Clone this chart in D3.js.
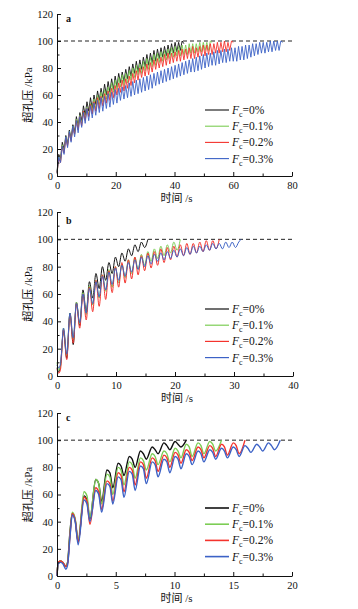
<!DOCTYPE html>
<html><head><meta charset="utf-8">
<script src="https://cdn.jsdelivr.net/npm/d3@7"></script>
<style>body{margin:0;background:#fff}svg{display:block}</style>
</head><body><svg id="chart" width="358" height="609"></svg>
<script>
// ---------- data ----------
const seriesNames = ["0%", "0.1%", "0.2%", "0.3%"];
const yTicks = [0, 20, 40, 60, 80, 100, 120];
const yMinor = [10, 30, 50, 70, 90, 110];
const refLevel = 100;

// panel a: values sampled every half cycle (aStep seconds)
const aStep = 0.6;
const aXTicks = [0, 20, 40, 60, 80];
const aXMinor = [10, 30, 50, 70];
const a0 = [3,16,13,25,20,30,24,34,28,38,33,44,37,47,41,52,45,55,48,58,50,60,53,63,56,65,58,68,60,70,62,72,64,74,66,76,69,77,70,79,72,81,74,83,76,85,77,86,79,88,81,90,82,91,84,93,85,94,87,95,88,96,89,97,90,98,91,99,92,99,93,100,98];
const a1 = [2,14,11,23,18,29,23,33,27,37,31,42,36,45,39,48,42,51,45,54,48,57,50,60,53,62,55,64,57,66,59,69,62,71,64,73,66,75,67,76,69,78,71,80,73,82,75,83,76,85,78,87,79,88,81,90,82,91,84,92,85,93,86,94,87,95,88,96,89,96,89,97,90,97,90,98,91,98,91,98,92,99,92,99,93,99,93,100,99];
const a2 = [2,13,10,22,17,28,22,32,26,36,31,41,34,44,37,48,41,50,44,53,46,55,48,58,50,59,52,61,54,63,56,65,58,67,60,69,62,71,63,72,65,74,67,76,69,78,71,80,73,81,74,83,75,84,77,86,79,87,80,88,81,90,82,91,83,91,84,92,85,93,85,94,86,94,87,95,87,96,87,95,88,96,89,97,89,97,90,98,90,98,91,99,91,99,92,100,92,99,93,100,99];
const a3 = [2,14,10,22,16,29,21,33,25,37,29,41,32,44,36,47,39,50,41,52,43,54,45,56,47,58,48,59,50,61,51,62,53,64,54,65,56,66,57,67,58,69,59,70,60,71,61,72,62,73,63,74,64,75,65,76,67,77,68,78,69,79,70,80,71,81,72,82,73,83,74,84,75,85,76,86,77,87,77,88,78,89,79,90,80,91,81,91,82,92,82,93,83,93,84,94,84,94,85,95,85,95,85,96,86,96,86,97,87,97,88,98,89,98,90,99,91,99,91,99,92,100,92,100,93,100,93,100,99];

// panel b
const bXTicks = [0, 10, 20, 30, 40];
const bXMinor = [5, 15, 25, 35];
const bTimes = [0,0.3,0.6,1.1,1.65,2.2,2.75,3.3,3.85,4.4,4.95,5.5,6.05,6.6,7.15,7.7,8.25,8.8,9.35,9.9,10.45,11,11.55,12.1,12.65,13.2,13.75,14.3,14.85,15.4,15.95,16.5,17.05,17.6,18.15,18.7,19.25,19.8,20.35,20.9,21.45,22,22.55,23.1,23.65,24.2,24.75,25.3,25.85,26.4,26.95,27.5,28.05,28.6,29.15,29.7,30.25,30.8,31.2];
const b0 = [6,3,8,33,13,46,23,54,37,63,47,69,57,75,64,80,70,83,75,87,80,90,84,93,88,96,91,98,94,100];
const b1 = [10,4,7,35,15,46,27,54,38,61,45,66,52,70,57,74,62,78,65,80,68,82,72,85,75,87,78,89,81,91,84,93,86,95,88,96,90,98,92,100];
const b2 = [5,2,5,34,12,45,24,53,35,60,41,65,47,70,51,74,56,77,61,80,65,83,68,85,71,87,74,88,77,90,79,91,81,93,83,94,85,95,87,96,88,97,89,97,90,98,91,99,92,99,93,100];
const b3 = [8,6,9,35,16,46,28,53,39,60,46,64,53,69,58,73,63,76,67,79,70,81,73,83,76,85,78,87,80,88,82,89,84,90,85,91,86,92,87,93,88,94,89,95,90,95,91,96,92,97,93,97,93,98,94,98,94,98,100];

// panel c
const cXTicks = [0, 5, 10, 15, 20];
const cXMinor = [2.5, 7.5, 12.5, 17.5];
const cTimes = [0,0.1,0.3,0.5,0.75,0.9,1.1,1.3,1.55,1.8,2.3,2.55,2.8,3.3,3.55,3.8,4.25,4.5,4.75,5.2,5.45,5.7,6.15,6.4,6.65,7.1,7.35,7.6,8.1,8.35,8.6,9.1,9.35,9.6,10.05,10.3,10.55,11,11.25,11.5,12,12.25,12.5,13,13.25,13.5,14,14.25,14.5,15,15.25,15.5,16,16.25,16.5,17,17.25,17.5,18,18.25,18.5,19];
const c0 = [0,10,11,10,7,10,32,46,41,25,59,56,42,71,68,55,78,76,65,83,81,74,88,86,80,92,90,86,95,93,90,98,96,93,99,97,95,100];
const c1 = [0,10,11,10,7,10,31,47,42,27,62,59,43,71,68,53,75,73,60,80,78,67,84,82,72,87,85,78,90,88,82,92,90,84,94,92,87,97,95,88,98,96,90,99,97,92,100];
const c2 = [0,10,11,10,7,9,29,46,41,25,58,55,38,65,62,49,70,68,55,76,74,62,80,78,67,84,82,72,87,85,77,89,87,80,91,89,83,93,91,85,95,93,87,96,94,88,97,95,89,98,96,90,100];
const c3 = [0,9,10,9,5,8,28,45,40,23,56,53,40,63,60,47,68,66,53,73,71,58,77,75,63,81,79,68,84,82,73,86,84,76,88,86,79,90,88,82,92,90,84,93,91,86,94,92,87,95,93,88,96,94,91,97,95,92,98,96,93,100];

// ---------- drawing ----------
const colors = ["#111111", "#7ccd55", "#f4332d", "#3c62c6"];
const svg = d3.select("#chart");
const serif = "'Liberation Serif','Times New Roman',serif";
const cjk = "'Liberation Serif','Noto Sans CJK SC',serif";

const panels = [
  {label:"a", xMax:80, xt:aXTicks, xm:aXMinor, left:57, right:292, top:14, bottom:176,
   series:[a0,a1,a2,a3].map(v => v.map((d,i)=>[i*aStep,d])), curve:d3.curveLinear, lw:0.9,
   legendY:110, labelY:22, xTitleY:202},
  {label:"b", xMax:40, xt:bXTicks, xm:bXMinor, left:57, right:293, top:212, bottom:376,
   series:[b0,b1,b2,b3].map(v => v.map((d,i)=>[bTimes[i],d])), curve:d3.curveMonotoneX, lw:1.0,
   legendY:309, labelY:224, xTitleY:402},
  {label:"c", xMax:20, xt:cXTicks, xm:cXMinor, left:57, right:292, top:413, bottom:576,
   series:[c0,c1,c2,c3].map(v => v.map((d,i)=>[cTimes[i],d])), curve:d3.curveMonotoneX, lw:1.4,
   legendY:508, labelY:421, xTitleY:602}
];

panels.forEach(p => {
  const x = d3.scaleLinear().domain([0, p.xMax]).range([p.left, p.right]);
  const y = d3.scaleLinear().domain([0, 120]).range([p.bottom, p.top]);
  const g = svg.append("g");

  // reference dashed line
  g.append("line").attr("x1", x(0)).attr("x2", x(p.xMax))
    .attr("y1", y(refLevel)).attr("y2", y(refLevel))
    .attr("stroke", "#222").attr("stroke-width", 1).attr("stroke-dasharray", "4,3");

  // curves
  const line = d3.line().x(d => x(d[0])).y(d => y(d[1])).curve(p.curve);
  p.series.forEach((s, k) => {
    g.append("path").datum(s).attr("d", line).attr("fill", "none")
      .attr("stroke", colors[k]).attr("stroke-width", p.lw).attr("stroke-linejoin", "round");
  });

  // axes
  const ax = g.append("g").attr("transform", `translate(0,${p.bottom})`)
    .call(d3.axisBottom(x).tickValues(p.xt).tickSizeInner(-4).tickSizeOuter(0).tickPadding(6).tickFormat(d3.format("d")));
  g.append("g").attr("transform", `translate(0,${p.bottom})`)
    .call(d3.axisBottom(x).tickValues(p.xm).tickSizeInner(-2.5).tickSizeOuter(0).tickFormat(""))
    .select(".domain").remove();
  const ay = g.append("g").attr("transform", `translate(${p.left},0)`)
    .call(d3.axisLeft(y).tickValues(yTicks).tickSizeInner(-4).tickSizeOuter(0).tickPadding(4));
  g.append("g").attr("transform", `translate(${p.left},0)`)
    .call(d3.axisLeft(y).tickValues(yMinor).tickSizeInner(-2.5).tickSizeOuter(0).tickFormat(""))
    .select(".domain").remove();
  g.selectAll(".tick text").attr("font-family", serif).attr("font-size", 10.5).attr("fill", "#111");
  g.selectAll(".domain, .tick line").attr("stroke", "#111").attr("stroke-width", 1);

  // titles
  g.append("text").attr("x", (p.left + p.right) / 2 + 2).attr("y", p.xTitleY)
    .attr("text-anchor", "middle").attr("font-family", cjk).attr("font-size", 11).attr("fill", "#111")
    .text("时间 /s");
  g.append("text").attr("transform", `translate(32,${(p.top + p.bottom) / 2}) rotate(-90)`)
    .attr("text-anchor", "middle").attr("font-family", cjk).attr("font-size", 11).attr("fill", "#111")
    .text("超孔压 /kPa");
  g.append("text").attr("x", 66).attr("y", p.labelY).attr("font-family", serif)
    .attr("font-weight", "bold").attr("font-size", 10).attr("fill", "#111").text(p.label);

  // legend
  seriesNames.forEach((n, k) => {
    const ly = p.legendY + k * 16.2;
    g.append("line").attr("x1", 205).attr("x2", 229).attr("y1", ly).attr("y2", ly)
      .attr("stroke", colors[k]).attr("stroke-width", p.lw + 0.2);
    const t = g.append("text").attr("x", 232).attr("y", ly + 4)
      .attr("font-family", serif).attr("font-size", 11.5).attr("fill", "#111");
    t.append("tspan").attr("font-style", "italic").text("F");
    t.append("tspan").attr("font-size", 8).attr("dy", 3).text("c");
    t.append("tspan").attr("dy", -3).text("=" + n);
  });
});
</script></body></html>
